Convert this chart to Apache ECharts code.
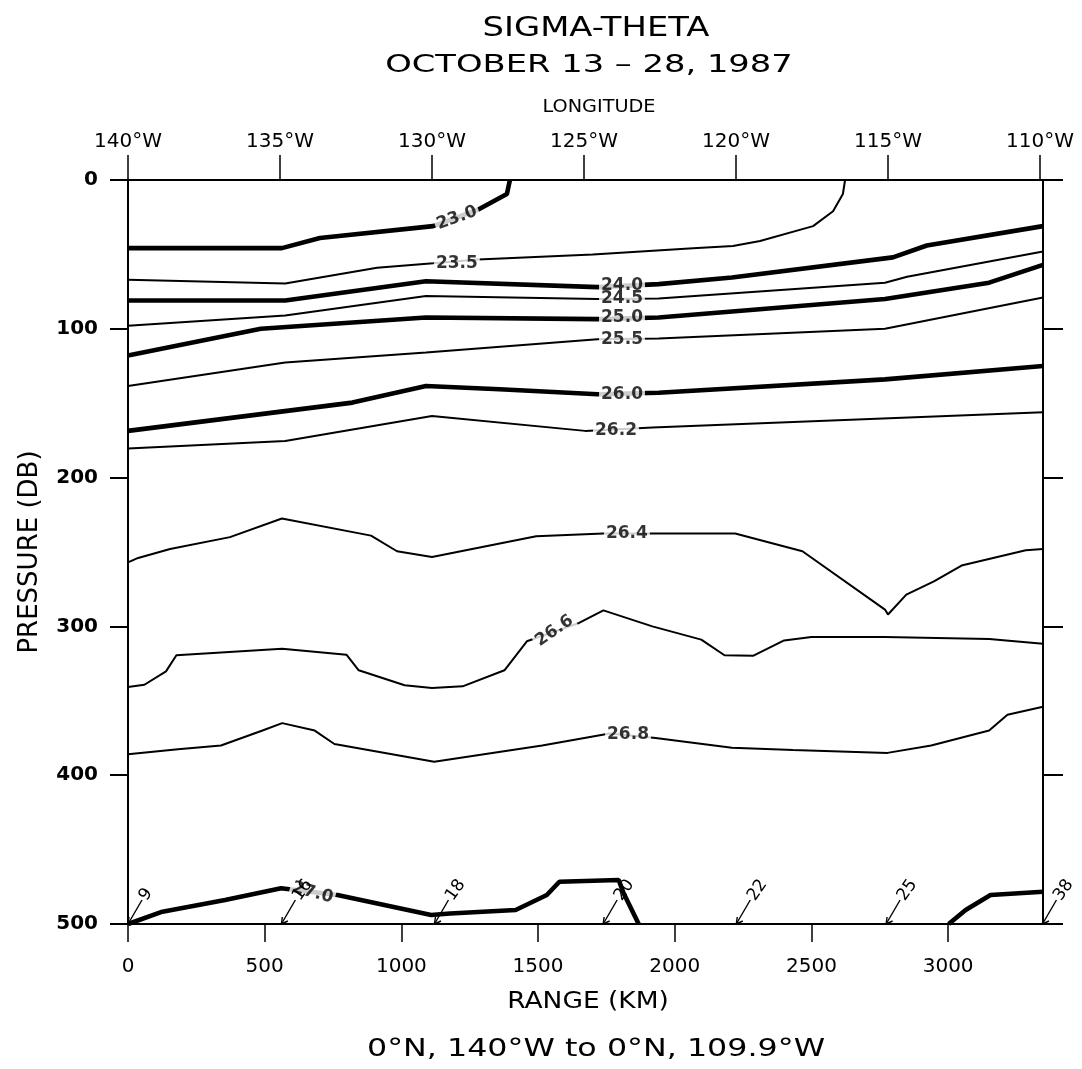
<!DOCTYPE html>
<html>
<head>
<meta charset="utf-8">
<script src="https://cdn.jsdelivr.net/npm/echarts@6/dist/echarts.min.js"></script>
<style>
html,body{margin:0;padding:0;background:#fff;}
#chart{width:1082px;height:1069px;}
</style>
</head>
<body>
<div id="chart"></div>
<script>
// ---------- data ----------
const rangeTicks = [0, 500, 1000, 1500, 2000, 2500, 3000];
const lonTicks = [-140, -135, -130, -125, -120, -115, -110];
const pressureTicks = [0, 100, 200, 300, 400, 500];
const rangeMax = 3347;      // km (0°N,140°W -> 0°N,109.9°W)
const lonMin = -140, lonMax = -109.9;

// contour isolines [range km, pressure db]
const c230 = [[0,45.8],[563,45.8],[702,39],[1116,31],[1280,20],[1386,9.4],[1397,0]];
const c235 = [[0,67],[575,69.5],[911,59],[1116,56],[1280,53.5],[1700,50],[2067,45.8],[2213,44.4],[2312,41],[2506,31],[2579,21],[2615,9.4],[2623,0]];
const c240 = [[0,81],[575,81],[1090,68],[1717,72],[1941,70],[2209,65.5],[2798,52],[2922,44],[3347,31]];
const c245 = [[0,98],[575,91],[1090,78],[1717,80],[1941,79.6],[2769,69],[2850,65],[3347,48]];
const c250 = [[0,118],[486,100],[1090,92.4],[1717,93.5],[1941,92.4],[2769,80],[3150,69],[3347,57]];
const c255 = [[0,138.4],[575,122.7],[1090,116],[1717,107],[1941,106.5],[2769,100],[3347,79]];
const c260 = [[0,168.6],[821,149.6],[1090,138.4],[1359,140.6],[1717,144],[1941,143],[2769,134],[3347,125]];
const c262 = [[0,180.5],[575,175.4],[1112,158.6],[1672,168.6],[1918,166.4],[3347,156]];
const c264 = [[0,257],[37,254],[154,248],[373,240],[563,227.5],[889,239],[984,249.5],[1112,253.3],[1493,239.4],[1739,237.6],[2221,237.6],[2467,249.5],[2769,288.7],[2780,292],[2847,278.6],[2948,269.7],[3049,259.1],[3284,248.8],[3347,248]];
const c266 = [[0,340.8],[60,339.2],[139,330.2],[177,319.4],[564,315],[799,319],[844,329.5],[1012,339.6],[1112,341.4],[1224,340.3],[1377,329.5],[1459,310],[1650,297.7],[1739,289.2],[1918,300],[2097,308.9],[2182,319.4],[2288,319.7],[2400,309.4],[2500,307.1],[2769,307.1],[3150,308.5],[3347,311.6]];
const c268 = [[0,386],[183,382.5],[340,380],[492,370],[564,365],[683,370],[755,379],[1120,391],[1515,380],[1762,372],[1930,375],[2209,381.5],[2433,383],[2778,385],[2938,380],[3150,370],[3217,359.4],[3347,354]];
const c270a = [[0,500],[126,491.7],[355,483.9],[560,476],[766,480.5],[1109,494],[1178,492.9],[1418,490.6],[1532,480.5],[1578,471.6],[1795,470.4],[1813,479.4],[1868,500]];
const c270b = [[3002,500],[3064,490.6],[3155,480.5],[3347,478.3]];

// contour labels: text, range km, pressure db
const labelText = ['23.0','23.5','24.0','24.5','25.0','25.5','26.0','26.2','26.4','26.6','26.8','27.0'];
const labelKm   = [1203, 1203, 1807, 1807, 1807, 1807, 1807, 1785, 1825, 1560, 1829, 675];
const labelDb   = [25.5, 56,   71,   80,   92.4, 107,  144,  168.6, 237.6, 303, 373, 479];

// station markers along the bottom
const stationKm = [0, 561, 1121, 1738, 2225, 2773, 3345];
const stationId = ['9','16','18','20','22','25','38'];

// ---------- chart ----------
const FONT = "'DejaVu Sans', sans-serif";
const contours = [
  {pts:c230, thick:true},{pts:c235, thick:false},{pts:c240, thick:true},{pts:c245, thick:false},
  {pts:c250, thick:true},{pts:c255, thick:false},{pts:c260, thick:true},{pts:c262, thick:false},
  {pts:c264, thick:false},{pts:c266, thick:false},{pts:c268, thick:false},
  {pts:c270a, thick:true},{pts:c270b, thick:true}
];
const labelRotate = {'23.0':20, '26.6':35, '27.0':-15};

const series = contours.map(c => ({
  type:'line', xAxisIndex:0, yAxisIndex:0, data:c.pts, showSymbol:false, symbol:'none',
  lineStyle:{color:'#000', width:c.thick?4.6:2}, z:2, silent:true
}));
series.push({
  type:'scatter', xAxisIndex:0, yAxisIndex:0, symbolSize:0, z:5, silent:true,
  data: labelText.map((t,i)=>({value:[labelKm[i], labelDb[i], t],
    label:{rotate: labelRotate[t]||0}})),
  label:{show:true, position:'inside', formatter:p=>p.value[2], color:'#000', fontWeight:'bold',
    fontFamily:FONT, fontSize:17, backgroundColor:'#fff', padding:[0,2]}
});
series.push({
  type:'custom', xAxisIndex:0, yAxisIndex:0, z:6, silent:true,
  data: stationKm.map(k=>[k, 500]),
  renderItem:(params, api)=>{
    const p = api.coord([api.value(0), api.value(1)]);
    const dx = 14, dy = -24;
    return {type:'group', children:[
      {type:'line', shape:{x1:p[0],y1:p[1],x2:p[0]+dx,y2:p[1]+dy}, style:{stroke:'#000', lineWidth:1.4}},
      {type:'line', shape:{x1:p[0],y1:p[1],x2:p[0]+1,y2:p[1]-7}, style:{stroke:'#000', lineWidth:1.4}},
      {type:'line', shape:{x1:p[0],y1:p[1],x2:p[0]+6.5,y2:p[1]-3}, style:{stroke:'#000', lineWidth:1.4}},
      {type:'text', x:p[0]+dx+1, y:p[1]+dy-1, rotation:55*Math.PI/180,
        style:{text:stationId[params.dataIndex], font:'17px '+FONT, fill:'#000', align:'left', verticalAlign:'middle'}}
    ]};
  }
});

const axisLineStyle = {show:true, onZero:false, lineStyle:{color:'#000', width:2}};
const option = {
  animation:false,
  backgroundColor:'#fff',
  grid:{left:128, top:180, width:915, height:744},
  xAxis:[
    {type:'value', position:'bottom', min:0, max:rangeMax, interval:500,
     axisLine:axisLineStyle,
     axisTick:{show:true, inside:false, length:18, customValues:rangeTicks, lineStyle:{color:'#000', width:1.5}},
     axisLabel:{customValues:rangeTicks, margin:33, color:'#000', fontSize:20, fontFamily:FONT,
       formatter:v=>String(v)},
     splitLine:{show:false}},
    {type:'value', position:'top', min:lonMin, max:lonMax, interval:5,
     axisLine:axisLineStyle,
     axisTick:{show:true, inside:false, length:25, customValues:lonTicks, lineStyle:{color:'#000', width:1.5}},
     axisLabel:{customValues:lonTicks, margin:28, color:'#000', fontSize:20, fontFamily:FONT,
       formatter:v=>Math.abs(v)+'°W'},
     splitLine:{show:false}}
  ],
  yAxis:[
    {type:'value', position:'left', inverse:true, min:0, max:500, interval:100,
     axisLine:axisLineStyle,
     axisTick:{show:true, inside:false, length:18, customValues:pressureTicks, lineStyle:{color:'#000', width:2}},
     axisLabel:{customValues:pressureTicks, margin:30, color:'#000', fontSize:20, fontWeight:'bold', fontFamily:FONT,
       formatter:v=>String(v)},
     splitLine:{show:false}},
    {type:'value', position:'right', inverse:true, min:0, max:500, interval:100,
     axisLine:axisLineStyle,
     axisTick:{show:true, inside:false, length:20, customValues:pressureTicks, lineStyle:{color:'#000', width:2}},
     axisLabel:{show:false},
     splitLine:{show:false}}
  ],
  graphic:[
    {type:'text', x:596, y:29, scaleX:1.3, style:{text:'SIGMA-THETA', font:'26px '+FONT, fill:'#000', align:'center', verticalAlign:'middle'}},
    {type:'text', x:589, y:65, scaleX:1.35, style:{text:'OCTOBER 13 – 28, 1987', font:'25px '+FONT, fill:'#000', align:'center', verticalAlign:'middle'}},
    {type:'text', x:599, y:107, scaleX:1.07, style:{text:'LONGITUDE', font:'18px '+FONT, fill:'#000', align:'center', verticalAlign:'middle'}},
    {type:'text', x:588, y:1002, scaleX:1.15, style:{text:'RANGE (KM)', font:'23px '+FONT, fill:'#000', align:'center', verticalAlign:'middle'}},
    {type:'text', x:596, y:1049, scaleX:1.27, style:{text:'0°N, 140°W to 0°N, 109.9°W', font:'25px '+FONT, fill:'#000', align:'center', verticalAlign:'middle'}},
    {type:'text', x:30, y:552, rotation:Math.PI/2, style:{text:'PRESSURE (DB)', font:'26px '+FONT, fill:'#000', align:'center', verticalAlign:'middle'}}
  ],
  series:series
};
const chart = echarts.init(document.getElementById('chart'), null, {renderer:'canvas'});
chart.setOption(option);
</script>
</body>
</html>
